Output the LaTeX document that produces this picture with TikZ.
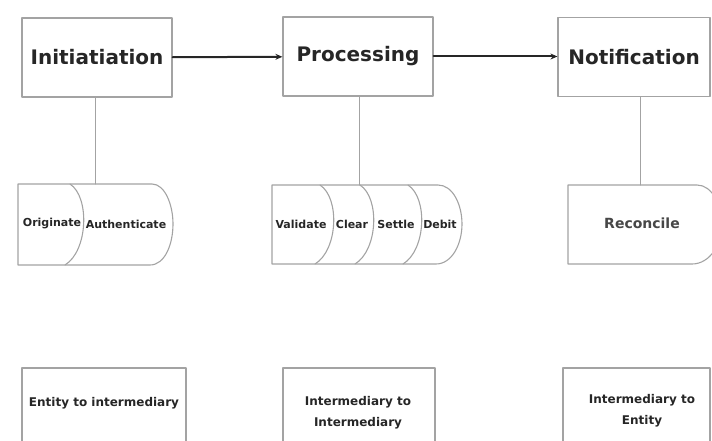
\documentclass[tikz,border=0pt]{standalone}
\usepackage{fontspec}
\setmainfont{DejaVu Sans}
\usetikzlibrary{arrows.meta}
\definecolor{edge}{HTML}{A3A3A3}
\definecolor{ink}{HTML}{262626}
\begin{document}
\begin{tikzpicture}[x=1pt,y=-1pt,line join=round,line cap=round,>={Stealth[length=7pt,width=6pt]},
    stage/.style={draw=edge,line width=1.2pt,minimum width=150pt,minimum height=79pt,inner sep=0pt,text=ink,font=\bfseries\fontsize{20}{24}\selectfont},
    part/.style={draw=edge,line width=1.1pt},
    partlbl/.style={text=ink,inner sep=1pt,font=\bfseries\fontsize{11}{13}\selectfont},
    reach/.style={draw=edge,line width=1.2pt,minimum height=90pt,inner sep=0pt},
    reachlbl/.style={text=ink,align=center,font=\bfseries\fontsize{12}{21}\selectfont},
    link/.style={draw=edge,line width=1pt},
    flow/.style={->,draw=ink,line width=2pt}]
    \useasboundingbox (0,0) rectangle (712,441);
    \clip (0,0) rectangle (712,441);
    % stages
    \node[stage] (ini) at (97,57.5) {Initiatiation};
    \node[stage] (pro) at (358,56.5) {Processing};
    \node[stage,minimum width=152pt] (noti) at (634,57) {Notification};
    \draw[flow] (ini) -- (pro);
    \draw[flow] (pro.east) -- (pro.east -| noti.west);
    % steps of each stage
    \coordinate (iniTop) at (95,184);
    \coordinate (proTop) at (359,185);
    \coordinate (notiTop) at (640,185);
    \draw[part] (18,184) -- (152,184) .. controls (165,184) and (173,205) .. (173,224) .. controls (173,244) and (165,265) .. (150,265) -- (18,265) -- cycle;
    \draw[part] (70,184) .. controls +(20,13) and +(23,-14) .. +(-5,81);
    \draw[part] (272,185) -- (438,185) .. controls (453,185) and (462,205) .. (462,224) .. controls (462,244) and (452,264) .. (436,264) -- (272,264) -- cycle;
    \foreach \s in {320,360,408}
        \draw[part] (\s,185) .. controls +(20,13) and +(23,-14) .. +(-5,79);
    \draw[part] (568,185) -- (697,185) .. controls (712,185) and (722,205) .. (722,224) .. controls (722,244) and (710,264) .. (692,264) -- (568,264) -- cycle;
    \node[partlbl] (orig) at (52,224) {Originate};
    \node[partlbl] (auth) at (126,224) {Authenticate};
    \node[partlbl] (vali) at (301,224) {Validate};
    \node[partlbl] (clea) at (352,224) {Clear};
    \node[partlbl] (sett) at (396,224) {Settle};
    \node[partlbl] (debi) at (440,224) {Debit};
    \node[partlbl,text=ink!85,font=\bfseries\fontsize{14}{16}\selectfont] (reco) at (642,223) {Reconcile};
    \draw[link] (ini.south -| iniTop) -- (iniTop);
    \draw[link] (pro.south -| proTop) -- (proTop);
    \draw[link] (noti.south -| notiTop) -- (notiTop);
    % who talks to whom
    \node[reach,minimum width=164pt] (entInt) at (104,413) {};
    \node[reach,minimum width=152pt] (intInt) at (359,413) {};
    \node[reach,minimum width=147pt] (intEnt) at (636.5,413) {};
    \node[reachlbl] (entIntLbl) at (104,403) {Entity to intermediary};
    \node[reachlbl] (intIntLbl) at (358,412.5) {Intermediary to\\Intermediary};
    \node[reachlbl] (intEntLbl) at (642,410.5) {Intermediary to\\Entity};
\end{tikzpicture}
\end{document}
